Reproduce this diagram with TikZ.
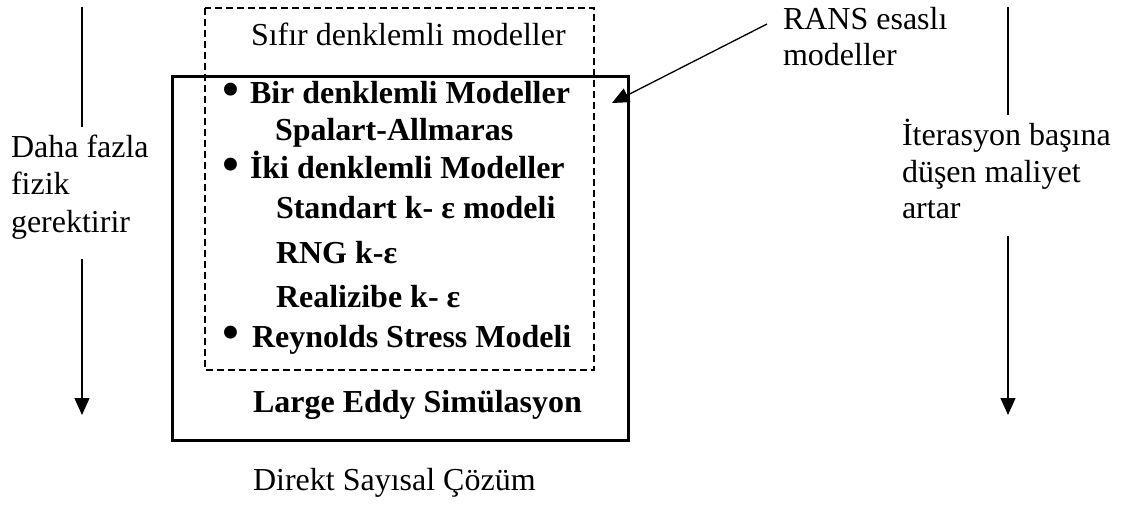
\documentclass[tikz,border=0pt]{standalone}
\usepackage{fontspec}
\setmainfont{Liberation Serif}
\usetikzlibrary{arrows.meta}
\tikzset{
  txt/.style={inner sep=0pt, outer sep=0pt, anchor=base west, font=\fontsize{32}{38}\selectfont},
  btxt/.style={txt, font=\fontsize{32}{38}\selectfont\bfseries},
  bul/.style={inner sep=0pt, outer sep=0pt, anchor=center, font=\fontsize{54}{54}\selectfont},
  thin/.style={line width=1.3pt},
  arr/.style={thin, -{Triangle[length=17pt,width=15pt]}},
  solidbox/.style={line width=3pt},
  dashbox/.style={line width=1.2pt, dash pattern=on 7pt off 4pt}
}
\begin{document}
\begin{tikzpicture}[x=1pt,y=-1pt]
\useasboundingbox (0,0) rectangle (1124,504);
% boxes
\draw[solidbox] (172,76) rectangle (628,440);
\draw[dashbox] (205,8) rectangle (594,370);
% texts inside
\node[txt] (sifir) at (251,45) {Sıfır denklemli modeller};
\node[bul] (b1) at (231,95) {•};
\node[btxt] (bir) at (250,103) {Bir denklemli Modeller};
\node[btxt] (spa) at (275,140) {Spalart-Allmaras};
\node[bul] (b2) at (231,170) {•};
\node[btxt] (iki) at (250,178) {İki denklemli Modeller};
\node[btxt] (std) at (276,218) {Standart k- ε modeli};
\node[btxt] (rng) at (276,263) {RNG k-ε};
\node[btxt] (rea) at (276,307) {Realizibe k- ε};
\node[bul] (b3) at (231,338) {•};
\node[btxt] (rey) at (252,347) {Reynolds Stress Modeli};
\node[btxt] (les) at (253,412) {Large Eddy Simülasyon};
\node[txt] (dns) at (253,490) {Direkt Sayısal Çözüm};
% left label
\node[txt] (l1) at (11,157) {Daha fazla};
\node[txt] (l2) at (11,194) {fizik};
\node[txt] (l3) at (11,232) {gerektirir};
% right label
\node[txt] (r1) at (902,145) {İterasyon başına};
\node[txt] (r2) at (902,182) {düşen maliyet};
\node[txt] (r3) at (902,218) {artar};
% RANS label
\node[txt] (rans1) at (783,29) {RANS esaslı};
\node[txt] (rans2) at (783,65) {modeller};
% arrows
\coordinate (la1) at (82,7);
\coordinate (la2) at (82,127);
\coordinate (la3) at (82,259);
\coordinate (la4) at (82,415);
\draw[thin] (la1) -- (la2);
\draw[arr] (la3) -- (la4);
\coordinate (ra1) at (1008,7);
\coordinate (ra2) at (1008,115);
\coordinate (ra3) at (1008,236);
\coordinate (ra4) at (1008,415);
\draw[thin] (ra1) -- (ra2);
\draw[arr] (ra3) -- (ra4);
\coordinate (rs) at (767,24);
\coordinate (rt) at (612,103);
\draw[arr] (rs) -- (rt);
\end{tikzpicture}
\end{document}
